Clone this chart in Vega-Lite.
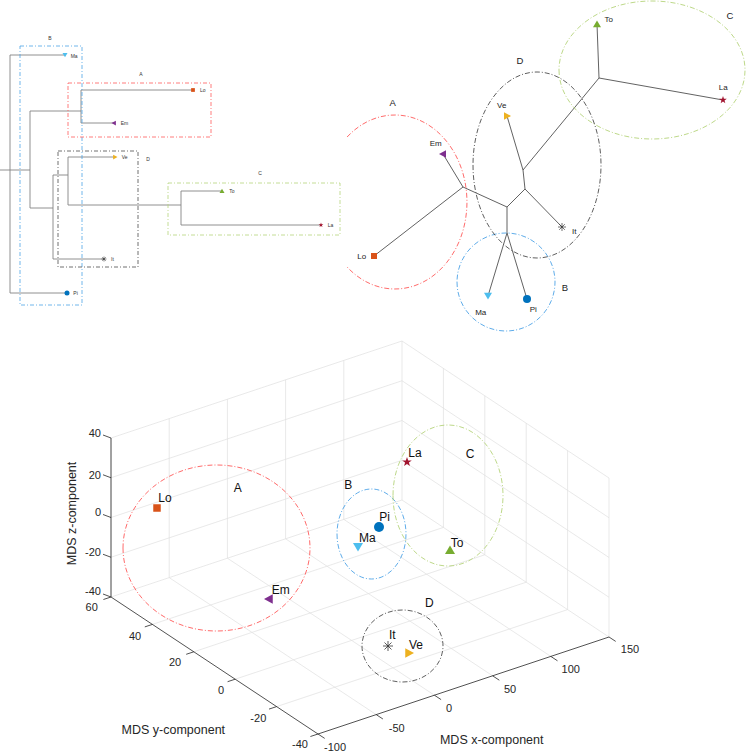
{
  "$schema": "https://vega.github.io/schema/vega-lite/v6.json",
  "width": 746,
  "height": 753,
  "autosize": {"type": "none"},
  "padding": 0,
  "background": "white",
  "config": {"view": {"stroke": null}, "font": "Liberation Sans"},
  "datasets": {
    "segs": [
      {"g": "grid", "x": 111, "y": 597, "x2": 111, "y2": 438},
      {"g": "grid", "x": 169.2, "y": 577.6, "x2": 169.2, "y2": 418.6},
      {"g": "grid", "x": 227.4, "y": 558.2, "x2": 227.4, "y2": 399.2},
      {"g": "grid", "x": 285.6, "y": 538.8, "x2": 285.6, "y2": 379.8},
      {"g": "grid", "x": 343.8, "y": 519.4, "x2": 343.8, "y2": 360.4},
      {"g": "grid", "x": 402, "y": 500, "x2": 402, "y2": 341},
      {"g": "grid", "x": 111, "y": 597, "x2": 402, "y2": 500},
      {"g": "grid", "x": 111, "y": 557.25, "x2": 402, "y2": 460.25},
      {"g": "grid", "x": 111, "y": 517.5, "x2": 402, "y2": 420.5},
      {"g": "grid", "x": 111, "y": 477.75, "x2": 402, "y2": 380.75},
      {"g": "grid", "x": 111, "y": 438, "x2": 402, "y2": 341},
      {"g": "grid", "x": 443.4, "y": 527.4, "x2": 443.4, "y2": 368.4},
      {"g": "grid", "x": 484.8, "y": 554.8, "x2": 484.8, "y2": 395.8},
      {"g": "grid", "x": 526.2, "y": 582.2, "x2": 526.2, "y2": 423.2},
      {"g": "grid", "x": 567.6, "y": 609.6, "x2": 567.6, "y2": 450.6},
      {"g": "grid", "x": 609, "y": 637, "x2": 609, "y2": 478},
      {"g": "grid", "x": 402, "y": 500, "x2": 609, "y2": 637},
      {"g": "grid", "x": 402, "y": 460.25, "x2": 609, "y2": 597.25},
      {"g": "grid", "x": 402, "y": 420.5, "x2": 609, "y2": 557.5},
      {"g": "grid", "x": 402, "y": 380.75, "x2": 609, "y2": 517.75},
      {"g": "grid", "x": 402, "y": 341, "x2": 609, "y2": 478},
      {"g": "grid", "x": 169.2, "y": 577.6, "x2": 376.2, "y2": 714.6},
      {"g": "grid", "x": 227.4, "y": 558.2, "x2": 434.4, "y2": 695.2},
      {"g": "grid", "x": 285.6, "y": 538.8, "x2": 492.6, "y2": 675.8},
      {"g": "grid", "x": 343.8, "y": 519.4, "x2": 550.8, "y2": 656.4},
      {"g": "grid", "x": 152.4, "y": 624.4, "x2": 443.4, "y2": 527.4},
      {"g": "grid", "x": 193.8, "y": 651.8, "x2": 484.8, "y2": 554.8},
      {"g": "grid", "x": 235.2, "y": 679.2, "x2": 526.2, "y2": 582.2},
      {"g": "grid", "x": 276.6, "y": 706.6, "x2": 567.6, "y2": 609.6},

      {"g": "axis", "x": 111, "y": 438, "x2": 111, "y2": 597},
      {"g": "axis", "x": 111, "y": 597, "x2": 318, "y2": 734},
      {"g": "axis", "x": 318, "y": 734, "x2": 609, "y2": 637},
      {"g": "axis", "x": 111, "y": 438, "x2": 103, "y2": 435},
      {"g": "axis", "x": 111, "y": 477.75, "x2": 103, "y2": 474.75},
      {"g": "axis", "x": 111, "y": 517.5, "x2": 103, "y2": 514.5},
      {"g": "axis", "x": 111, "y": 557.25, "x2": 103, "y2": 554.25},
      {"g": "axis", "x": 111, "y": 597, "x2": 103, "y2": 594},
      {"g": "axis", "x": 111, "y": 597, "x2": 103.4, "y2": 599.5},
      {"g": "axis", "x": 152.4, "y": 624.4, "x2": 144.8, "y2": 626.9},
      {"g": "axis", "x": 193.8, "y": 651.8, "x2": 186.2, "y2": 654.3},
      {"g": "axis", "x": 235.2, "y": 679.2, "x2": 227.6, "y2": 681.7},
      {"g": "axis", "x": 276.6, "y": 706.6, "x2": 269, "y2": 709.1},
      {"g": "axis", "x": 318, "y": 734, "x2": 310.4, "y2": 736.5},
      {"g": "axis", "x": 318, "y": 734, "x2": 324.7, "y2": 738.4},
      {"g": "axis", "x": 376.2, "y": 714.6, "x2": 382.9, "y2": 719},
      {"g": "axis", "x": 434.4, "y": 695.2, "x2": 441.1, "y2": 699.6},
      {"g": "axis", "x": 492.6, "y": 675.8, "x2": 499.3, "y2": 680.2},
      {"g": "axis", "x": 550.8, "y": 656.4, "x2": 557.5, "y2": 660.8},
      {"g": "axis", "x": 609, "y": 637, "x2": 615.7, "y2": 641.4},

      {"g": "dendro", "x": 0, "y": 170, "x2": 30, "y2": 170},
      {"g": "dendro", "x": 10, "y": 55, "x2": 10, "y2": 293},
      {"g": "dendro", "x": 10, "y": 55, "x2": 65, "y2": 55},
      {"g": "dendro", "x": 10, "y": 293, "x2": 67, "y2": 293},
      {"g": "dendro", "x": 30, "y": 111, "x2": 30, "y2": 208},
      {"g": "dendro", "x": 30, "y": 111, "x2": 81, "y2": 111},
      {"g": "dendro", "x": 81, "y": 90, "x2": 81, "y2": 123},
      {"g": "dendro", "x": 81, "y": 90, "x2": 193, "y2": 90},
      {"g": "dendro", "x": 81, "y": 123, "x2": 114, "y2": 123},
      {"g": "dendro", "x": 30, "y": 208, "x2": 53, "y2": 208},
      {"g": "dendro", "x": 53, "y": 175, "x2": 53, "y2": 259},
      {"g": "dendro", "x": 53, "y": 259, "x2": 104, "y2": 259},
      {"g": "dendro", "x": 53, "y": 175, "x2": 68, "y2": 175},
      {"g": "dendro", "x": 68, "y": 157, "x2": 68, "y2": 205},
      {"g": "dendro", "x": 68, "y": 157, "x2": 115, "y2": 157},
      {"g": "dendro", "x": 68, "y": 205, "x2": 181, "y2": 205},
      {"g": "dendro", "x": 181, "y": 191, "x2": 181, "y2": 225},
      {"g": "dendro", "x": 181, "y": 191, "x2": 222, "y2": 191},
      {"g": "dendro", "x": 181, "y": 225, "x2": 321, "y2": 225},

      {"g": "tree", "x": 599, "y": 78, "x2": 597, "y2": 24},
      {"g": "tree", "x": 599, "y": 78, "x2": 723, "y2": 100},
      {"g": "tree", "x": 599, "y": 78, "x2": 523, "y2": 170},
      {"g": "tree", "x": 523, "y": 170, "x2": 507, "y2": 116},
      {"g": "tree", "x": 523, "y": 170, "x2": 525, "y2": 189},
      {"g": "tree", "x": 525, "y": 189, "x2": 562, "y2": 227},
      {"g": "tree", "x": 525, "y": 189, "x2": 507, "y2": 207},
      {"g": "tree", "x": 507, "y": 207, "x2": 463, "y2": 187},
      {"g": "tree", "x": 463, "y": 187, "x2": 443, "y2": 154},
      {"g": "tree", "x": 463, "y": 187, "x2": 374, "y2": 256},
      {"g": "tree", "x": 507, "y": 207, "x2": 507, "y2": 233},
      {"g": "tree", "x": 507, "y": 233, "x2": 488, "y2": 296},
      {"g": "tree", "x": 507, "y": 233, "x2": 527, "y2": 299}
    ],
    "boxes": [
      {"cluster": "B", "x": 20, "y": 46, "x2": 82, "y2": 305},
      {"cluster": "A", "x": 68, "y": 83, "x2": 211, "y2": 137},
      {"cluster": "D", "x": 58, "y": 151, "x2": 138, "y2": 267},
      {"cluster": "C", "x": 168, "y": 183, "x2": 340, "y2": 235}
    ],
    "ellipses": [
      {"key": "A_t", "cluster": "A", "x": 395, "y": 202},
      {"key": "B_t", "cluster": "B", "x": 506, "y": 282},
      {"key": "C_t", "cluster": "C", "x": 652, "y": 70},
      {"key": "D_t", "cluster": "D", "x": 537, "y": 165},
      {"key": "A_m", "cluster": "A", "x": 216.5, "y": 548},
      {"key": "B_m", "cluster": "B", "x": 371.5, "y": 534},
      {"key": "C_m", "cluster": "C", "x": 448, "y": 495.5},
      {"key": "D_m", "cluster": "D", "x": 402.5, "y": 646}
    ],
    "markers": [
      {"panel": "dendro", "key": "Ma", "x": 65, "y": 55, "lx": 70.7, "ly": 56},
      {"panel": "dendro", "key": "Pi", "x": 67, "y": 293, "lx": 73.3, "ly": 293},
      {"panel": "dendro", "key": "Lo", "x": 193, "y": 90, "lx": 200, "ly": 90},
      {"panel": "dendro", "key": "Em", "x": 114, "y": 123, "lx": 120.7, "ly": 123},
      {"panel": "dendro", "key": "It", "x": 104, "y": 259, "lx": 111, "ly": 259},
      {"panel": "dendro", "key": "Ve", "x": 115, "y": 157, "lx": 121.7, "ly": 157},
      {"panel": "dendro", "key": "To", "x": 222, "y": 191, "lx": 229.3, "ly": 191},
      {"panel": "dendro", "key": "La", "x": 321, "y": 225, "lx": 327.7, "ly": 225},
      {"panel": "tree", "key": "To", "x": 597, "y": 24, "lx": 608.7, "ly": 20},
      {"panel": "tree", "key": "La", "x": 723, "y": 100, "lx": 723.3, "ly": 88},
      {"panel": "tree", "key": "Ve", "x": 507, "y": 116, "lx": 501.7, "ly": 105.7},
      {"panel": "tree", "key": "Em", "x": 443, "y": 154, "lx": 435.7, "ly": 144.3},
      {"panel": "tree", "key": "Lo", "x": 374, "y": 256, "lx": 361.7, "ly": 256.7},
      {"panel": "tree", "key": "Ma", "x": 488, "y": 296, "lx": 480.7, "ly": 312.7},
      {"panel": "tree", "key": "Pi", "x": 527, "y": 299, "lx": 533.3, "ly": 310},
      {"panel": "tree", "key": "It", "x": 562, "y": 227, "lx": 574.3, "ly": 231.7},
      {"panel": "mds", "key": "Lo", "x": 157, "y": 508, "lx": 158.3, "ly": 498.3},
      {"panel": "mds", "key": "Em", "x": 269, "y": 599, "lx": 271.7, "ly": 590},
      {"panel": "mds", "key": "Pi", "x": 379, "y": 527, "lx": 379.3, "ly": 517.3},
      {"panel": "mds", "key": "Ma", "x": 358, "y": 547, "lx": 359, "ly": 538.3},
      {"panel": "mds", "key": "La", "x": 407, "y": 462, "lx": 408.3, "ly": 453.3},
      {"panel": "mds", "key": "To", "x": 450, "y": 550, "lx": 450.7, "ly": 542.7},
      {"panel": "mds", "key": "It", "x": 388, "y": 646, "lx": 389, "ly": 635},
      {"panel": "mds", "key": "Ve", "x": 409, "y": 653, "lx": 409, "ly": 645}
    ],
    "labels": [
      {"kind": "dclust", "text": "B", "x": 50, "y": 38},
      {"kind": "dclust", "text": "A", "x": 141, "y": 74},
      {"kind": "dclust", "text": "D", "x": 148, "y": 159},
      {"kind": "dclust", "text": "C", "x": 260, "y": 173},
      {"kind": "tclust", "text": "A", "x": 392.7, "y": 102.7},
      {"kind": "tclust", "text": "D", "x": 520, "y": 60.7},
      {"kind": "tclust", "text": "C", "x": 730, "y": 15.7},
      {"kind": "tclust", "text": "B", "x": 565, "y": 288.3},
      {"kind": "mclust", "text": "A", "x": 237.7, "y": 488.3},
      {"kind": "mclust", "text": "B", "x": 348.3, "y": 485},
      {"kind": "mclust", "text": "C", "x": 470, "y": 454},
      {"kind": "mclust", "text": "D", "x": 429.3, "y": 603.3},
      {"kind": "ztick", "text": "40", "x": 101, "y": 434},
      {"kind": "ztick", "text": "20", "x": 101, "y": 475.7},
      {"kind": "ztick", "text": "0", "x": 101, "y": 513},
      {"kind": "ztick", "text": "-20", "x": 101, "y": 553},
      {"kind": "ztick", "text": "-40", "x": 101, "y": 592.3},
      {"kind": "tick", "text": "60", "x": 91.7, "y": 608.3},
      {"kind": "tick", "text": "40", "x": 135, "y": 636.7},
      {"kind": "tick", "text": "20", "x": 175, "y": 663.3},
      {"kind": "tick", "text": "0", "x": 221, "y": 691},
      {"kind": "tick", "text": "-20", "x": 258.3, "y": 719.3},
      {"kind": "tick", "text": "-40", "x": 300, "y": 745},
      {"kind": "tick", "text": "-100", "x": 335, "y": 748.3},
      {"kind": "tick", "text": "-50", "x": 396.7, "y": 729.3},
      {"kind": "tick", "text": "0", "x": 449, "y": 709.3},
      {"kind": "tick", "text": "50", "x": 510, "y": 690},
      {"kind": "tick", "text": "100", "x": 570.7, "y": 670},
      {"kind": "tick", "text": "150", "x": 630, "y": 650},
      {"kind": "title", "text": "MDS y-component", "x": 173.3, "y": 730},
      {"kind": "title", "text": "MDS x-component", "x": 491.7, "y": 740},
      {"kind": "ztitle", "text": "MDS z-component", "x": 71.7, "y": 513.5}
    ]
  },
  "encoding": {
    "x": {"field": "x", "type": "quantitative", "scale": {"domain": [0, 746], "nice": false, "zero": false}, "axis": null},
    "y": {"field": "y", "type": "quantitative", "scale": {"domain": [0, 753], "nice": false, "zero": false, "reverse": true}, "axis": null}
  },
  "layer": [
    {
      "data": {"name": "segs"},
      "transform": [{"filter": "datum.g === 'grid'"}],
      "mark": {"type": "rule", "stroke": "#e0e0e0", "strokeWidth": 0.7},
      "encoding": {"x2": {"field": "x2"}, "y2": {"field": "y2"}}
    },
    {
      "data": {"name": "segs"},
      "transform": [{"filter": "datum.g === 'dendro'"}],
      "mark": {"type": "rule", "stroke": "#858585", "strokeWidth": 0.9},
      "encoding": {"x2": {"field": "x2"}, "y2": {"field": "y2"}}
    },
    {
      "data": {"name": "segs"},
      "transform": [{"filter": "datum.g === 'tree'"}],
      "mark": {"type": "rule", "stroke": "#3a3a3a", "strokeWidth": 0.8},
      "encoding": {"x2": {"field": "x2"}, "y2": {"field": "y2"}}
    },
    {
      "data": {"name": "segs"},
      "transform": [{"filter": "datum.g === 'axis'"}],
      "mark": {"type": "rule", "stroke": "#262626", "strokeWidth": 0.8},
      "encoding": {"x2": {"field": "x2"}, "y2": {"field": "y2"}}
    },
    {
      "data": {"name": "boxes"},
      "mark": {"type": "rect", "filled": false, "fill": "transparent", "strokeWidth": 0.8, "strokeDash": [4, 2, 1, 2]},
      "encoding": {
        "x2": {"field": "x2"}, "y2": {"field": "y2"},
        "stroke": {"field": "cluster", "type": "nominal", "scale": {"domain": ["A", "B", "C", "D"], "range": ["#ff5a5a", "#4da3e6", "#b5d47c", "#4d4d4d"]}, "legend": null}
      }
    },
    {
      "data": {"name": "ellipses"},
      "mark": {"type": "point", "filled": false, "opacity": 1, "strokeWidth": 0.9, "strokeDash": [5, 2, 1, 2]},
      "encoding": {
        "size": {"value": 4},
        "stroke": {"field": "cluster", "type": "nominal", "scale": {"domain": ["A", "B", "C", "D"], "range": ["#ff5a5a", "#4da3e6", "#b5d47c", "#4d4d4d"]}, "legend": null},
        "shape": {"field": "key", "type": "nominal", "legend": null, "scale": {
          "domain": ["Lo", "Em", "Pi", "Ma", "La", "To", "Ve", "It", "A_t", "B_t", "C_t", "D_t", "A_m", "B_m", "C_m", "D_m"],
          "range": [
            "M-0.75,-0.75L0.75,-0.75L0.75,0.75L-0.75,0.75Z",
            "M-1,0L0.75,-0.95L0.75,0.95Z",
            "circle",
            "M-1,-0.8L1,-0.8L0,0.9Z",
            "M0,-1L0.235,-0.324L0.951,-0.309L0.38,0.124L0.588,0.809L0,0.4L-0.588,0.809L-0.38,0.124L-0.951,-0.309L-0.235,-0.324Z",
            "M0,-0.9L1,0.8L-1,0.8Z",
            "M1,0L-0.75,-0.95L-0.75,0.95Z",
            "M-1,0L1,0M0,-1L0,1M-0.7,-0.7L0.7,0.7M-0.7,0.7L0.7,-0.7",
            "M-47.9,-65A72,87,0,1,1,-47.9,65",
            "M-49,0A49,49,0,1,0,49,0A49,49,0,1,0,-49,0Z",
            "M-93,0A93,69,0,1,0,93,0A93,69,0,1,0,-93,0Z",
            "M-64,0A64,93,0,1,0,64,0A64,93,0,1,0,-64,0Z",
            "M-93.5,0A93.5,83,0,1,0,93.5,0A93.5,83,0,1,0,-93.5,0Z",
            "M-34.5,0A34.5,45,0,1,0,34.5,0A34.5,45,0,1,0,-34.5,0Z",
            "M-55,0A55,70.5,0,1,0,55,0A55,70.5,0,1,0,-55,0Z",
            "M-40.5,0A40.5,36,0,1,0,40.5,0A40.5,36,0,1,0,-40.5,0Z"
          ]}}
      }
    },
    {
      "data": {"name": "markers"},
      "transform": [{"filter": "datum.panel === 'dendro'"}],
      "mark": {"type": "point", "filled": true, "opacity": 1, "strokeWidth": 0.6},
      "encoding": {
        "size": {"value": 25},
        "shape": {"field": "key", "type": "nominal", "legend": null},
        "fill": {"field": "key", "type": "nominal", "legend": null, "scale": {"domain": ["Lo", "Em", "Pi", "Ma", "La", "To", "Ve", "It"], "range": ["#D95319", "#7E2F8E", "#0072BD", "#4DBEEE", "#A2142F", "#77AC30", "#EDB120", "#333333"]}},
        "stroke": {"condition": {"test": "datum.key === 'It'", "value": "#333333"}, "value": "transparent"}
      }
    },
    {
      "data": {"name": "markers"},
      "transform": [{"filter": "datum.panel === 'tree'"}],
      "mark": {"type": "point", "filled": true, "opacity": 1, "strokeWidth": 0.7},
      "encoding": {
        "size": {"value": 64},
        "shape": {"field": "key", "type": "nominal", "legend": null},
        "fill": {"field": "key", "type": "nominal", "legend": null},
        "stroke": {"condition": {"test": "datum.key === 'It'", "value": "#333333"}, "value": "transparent"}
      }
    },
    {
      "data": {"name": "markers"},
      "transform": [{"filter": "datum.panel === 'mds'"}],
      "mark": {"type": "point", "filled": true, "opacity": 1, "strokeWidth": 0.8},
      "encoding": {
        "size": {"value": 100},
        "shape": {"field": "key", "type": "nominal", "legend": null},
        "fill": {"field": "key", "type": "nominal", "legend": null},
        "stroke": {"condition": {"test": "datum.key === 'It'", "value": "#333333"}, "value": "transparent"}
      }
    },
    {
      "data": {"name": "markers"},
      "transform": [{"filter": "datum.panel === 'dendro'"}],
      "mark": {"type": "text", "fontSize": 5, "align": "left", "baseline": "middle", "fill": "#333333"},
      "encoding": {"x": {"field": "lx", "type": "quantitative"}, "y": {"field": "ly", "type": "quantitative"}, "text": {"field": "key"}}
    },
    {
      "data": {"name": "markers"},
      "transform": [{"filter": "datum.panel === 'tree'"}],
      "mark": {"type": "text", "fontSize": 8, "align": "center", "baseline": "middle", "fill": "#222222"},
      "encoding": {"x": {"field": "lx", "type": "quantitative"}, "y": {"field": "ly", "type": "quantitative"}, "text": {"field": "key"}}
    },
    {
      "data": {"name": "markers"},
      "transform": [{"filter": "datum.panel === 'mds'"}],
      "mark": {"type": "text", "fontSize": 12, "align": "left", "baseline": "middle", "fill": "#111111"},
      "encoding": {"x": {"field": "lx", "type": "quantitative"}, "y": {"field": "ly", "type": "quantitative"}, "text": {"field": "key"}}
    },
    {
      "data": {"name": "labels"},
      "transform": [{"filter": "datum.kind === 'dclust'"}],
      "mark": {"type": "text", "fontSize": 5, "align": "center", "baseline": "middle", "fill": "#333333"},
      "encoding": {"text": {"field": "text"}}
    },
    {
      "data": {"name": "labels"},
      "transform": [{"filter": "datum.kind === 'tclust'"}],
      "mark": {"type": "text", "fontSize": 9.5, "align": "center", "baseline": "middle", "fill": "#222222"},
      "encoding": {"text": {"field": "text"}}
    },
    {
      "data": {"name": "labels"},
      "transform": [{"filter": "datum.kind === 'mclust'"}],
      "mark": {"type": "text", "fontSize": 12, "align": "center", "baseline": "middle", "fill": "#111111"},
      "encoding": {"text": {"field": "text"}}
    },
    {
      "data": {"name": "labels"},
      "transform": [{"filter": "datum.kind === 'ztick'"}],
      "mark": {"type": "text", "fontSize": 11, "align": "right", "baseline": "middle", "fill": "#262626"},
      "encoding": {"text": {"field": "text"}}
    },
    {
      "data": {"name": "labels"},
      "transform": [{"filter": "datum.kind === 'tick'"}],
      "mark": {"type": "text", "fontSize": 11, "align": "center", "baseline": "middle", "fill": "#262626"},
      "encoding": {"text": {"field": "text"}}
    },
    {
      "data": {"name": "labels"},
      "transform": [{"filter": "datum.kind === 'title'"}],
      "mark": {"type": "text", "fontSize": 12.5, "align": "center", "baseline": "middle", "fill": "#262626"},
      "encoding": {"text": {"field": "text"}}
    },
    {
      "data": {"name": "labels"},
      "transform": [{"filter": "datum.kind === 'ztitle'"}],
      "mark": {"type": "text", "fontSize": 12.5, "align": "center", "baseline": "middle", "angle": 270, "fill": "#262626"},
      "encoding": {"text": {"field": "text"}}
    }
  ]
}
